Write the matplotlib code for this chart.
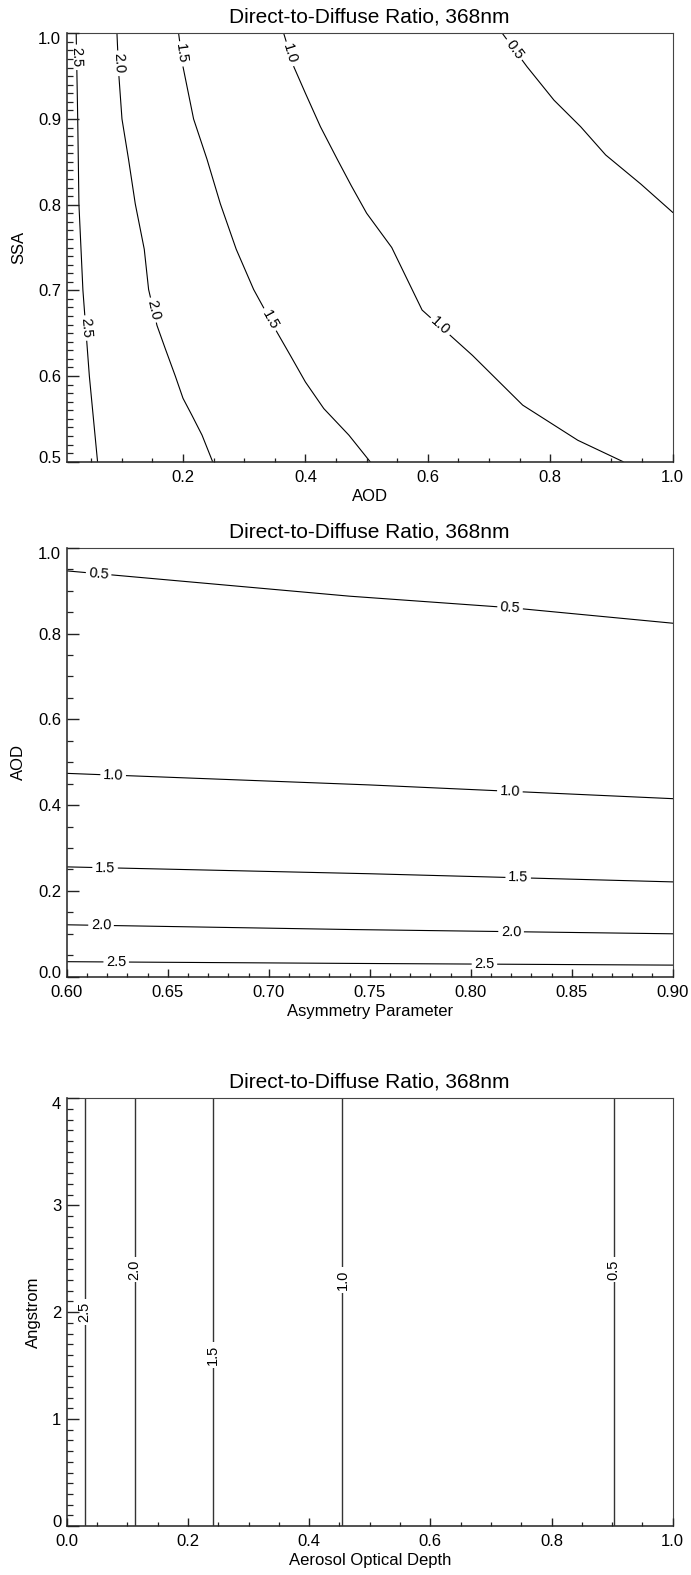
import numpy as np
import matplotlib
matplotlib.use("Agg")
import matplotlib.pyplot as plt
from matplotlib.ticker import MultipleLocator, FixedLocator, FormatStrFormatter
import matplotlib.transforms as mtransforms

plt.rcParams['font.family'] = ['Liberation Sans', 'DejaVu Sans']

TITLE = "Direct-to-Diffuse Ratio, 368nm"

# ---------------- Panel 1: SSA vs AOD ----------------
p1_aod_25 = [0.0255, 0.028, 0.030, 0.0365, 0.047, 0.0604]
p1_ssa_25 = [1.0, 0.90, 0.80, 0.70, 0.60, 0.50]
p1_aod_20 = [0.0921, 0.095, 0.1003, 0.111, 0.122, 0.1367, 0.1438, 0.1575, 0.171, 0.1874, 0.200, 0.2147, 0.2311, 0.2484]
p1_ssa_20 = [1.0, 0.953, 0.900, 0.853, 0.801, 0.748, 0.701, 0.659, 0.632, 0.600, 0.574, 0.554, 0.531, 0.500]
p1_aod_15 = [0.1928, 0.200, 0.2173, 0.2392, 0.261, 0.2869, 0.3154, 0.3537, 0.3754, 0.400, 0.430, 0.471, 0.5057]
p1_ssa_15 = [1.0, 0.961, 0.900, 0.853, 0.801, 0.748, 0.701, 0.651, 0.624, 0.593, 0.562, 0.531, 0.500]
p1_aod_10 = [0.3645, 0.381, 0.400, 0.4245, 0.452, 0.475, 0.500, 0.541, 0.5906, 0.673, 0.755, 0.845, 0.919]
p1_ssa_10 = [1.0, 0.961, 0.930, 0.891, 0.853, 0.822, 0.790, 0.750, 0.677, 0.624, 0.566, 0.525, 0.500]
p1_aod_05 = [0.7216, 0.762, 0.806, 0.8496, 0.8905, 0.948, 1.0]
p1_ssa_05 = [1.0, 0.961, 0.922, 0.891, 0.858, 0.824, 0.791]
p1_lab_ssa_25 = [0.972, 0.656]
p1_lab_ssa_20 = [0.965, 0.677]
p1_lab_ssa_15 = [0.976, 0.666]
p1_lab_ssa_10 = [0.976, 0.658]
p1_lab_ssa_05 = [0.981]

# ---------------- Panel 2: AOD vs Asymmetry ----------------
p2_g_05 = [0.60, 0.74, 0.82, 0.90]
p2_aod_05 = [0.946, 0.887, 0.860, 0.824]
p2_g_10 = [0.60, 0.75, 0.90]
p2_aod_10 = [0.474, 0.447, 0.415]
p2_g_15 = [0.60, 0.75, 0.90]
p2_aod_15 = [0.256, 0.240, 0.221]
p2_g_20 = [0.60, 0.74, 0.90]
p2_aod_20 = [0.121, 0.110, 0.100]
p2_g_25 = [0.60, 0.74, 0.90]
p2_aod_25 = [0.035, 0.031, 0.027]
p2_lab_g_05 = [0.6158, 0.8195]
p2_lab_g_10 = [0.623, 0.8194]
p2_lab_g_15 = [0.619, 0.8235]
p2_lab_g_20 = [0.617, 0.820]
p2_lab_g_25 = [0.6245, 0.8068]

# ---------------- Panel 3: Angstrom vs AOD ----------------
p3_levels = ["2.5", "2.0", "1.5", "1.0", "0.5"]
p3_aod = [0.0297, 0.112, 0.2414, 0.455, 0.9026]
p3_ang_ends = [0.0, 4.0]
p3_lab_ang = [2.0, 2.4, 1.6, 2.3, 2.4]

W, H = 691, 1575
fig = plt.figure(figsize=(W / 100, H / 100), dpi=100)

LEFT, RIGHT = 66.7, 672.7


def make_axes(top, bottom):
    return fig.add_axes([LEFT / W, 1 - bottom / H, (RIGHT - LEFT) / W, (bottom - top) / H])


def style_axes(ax):
    ax.set_axisbelow(False)
    for s in ['top', 'right']:
        ax.spines[s].set_linewidth(0.8)
        ax.spines[s].set_color('#444444')
    for s in ['left', 'bottom']:
        ax.spines[s].set_linewidth(1.2)
        ax.spines[s].set_color('#333333')
    ax.tick_params(axis='both', which='both', direction='in', top=False, right=False,
                   labelsize=12, colors='#222222', labelcolor='black')
    ax.tick_params(axis='y', which='major', length=8.4, width=1.0, pad=4)
    ax.tick_params(axis='y', which='minor', length=4.4, width=0.9)
    ax.tick_params(axis='x', which='major', length=5.6, width=1.0, pad=6)
    ax.tick_params(axis='x', which='minor', length=2.8, width=0.9)


def nudge_end_labels(ax):
    labs = ax.get_yticklabels()
    off_down = mtransforms.ScaledTranslation(0, -5 / 100, fig.dpi_scale_trans)
    off_up = mtransforms.ScaledTranslation(0, 5 / 100, fig.dpi_scale_trans)
    labs[0].set_transform(labs[0].get_transform() + off_up)
    labs[-1].set_transform(labs[-1].get_transform() + off_down)


def seg_angle(ax, xs, ys, x, y):
    pts = ax.transData.transform(np.column_stack([xs, ys]))
    p = ax.transData.transform([[x, y]])[0]
    best, bi = 1e18, 0
    for i in range(len(pts) - 1):
        a, b = pts[i], pts[i + 1]
        d = b - a
        t = np.clip(np.dot(p - a, d) / max(np.dot(d, d), 1e-9), 0, 1)
        dist = np.linalg.norm(a + t * d - p)
        if dist < best:
            best, bi = dist, i
    d = pts[bi + 1] - pts[bi]
    return np.degrees(np.arctan2(d[1], d[0]))


LINE_KW = dict(color='black', lw=0.8, zorder=2, solid_joinstyle='miter')
LAB_KW = dict(fontsize=10.5, ha='center', va='center', rotation_mode='anchor', zorder=2.2,
              bbox=dict(boxstyle='square,pad=0.18', fc='white', ec='none'))


def title(ax, top):
    fig.text(0.5 * (LEFT + RIGHT) / W, 1 - (top - 16) / H, TITLE, fontsize=15,
             ha='center', va='center')


# ===== Panel 1 =====
ax1 = make_axes(33.3, 461.7)
ax1.set_xlim(0.01, 1.0)
ax1.set_ylim(0.5, 1.0)
style_axes(ax1)
ax1.xaxis.set_major_locator(FixedLocator([0.2, 0.4, 0.6, 0.8, 1.0]))
ax1.xaxis.set_minor_locator(MultipleLocator(0.05))
ax1.yaxis.set_major_locator(FixedLocator([0.5, 0.6, 0.7, 0.8, 0.9, 1.0]))
ax1.yaxis.set_minor_locator(MultipleLocator(0.01))
ax1.xaxis.set_major_formatter(FormatStrFormatter('%.1f'))
ax1.yaxis.set_major_formatter(FormatStrFormatter('%.1f'))
p1_lines = [("2.5", p1_aod_25, p1_ssa_25, p1_lab_ssa_25),
            ("2.0", p1_aod_20, p1_ssa_20, p1_lab_ssa_20),
            ("1.5", p1_aod_15, p1_ssa_15, p1_lab_ssa_15),
            ("1.0", p1_aod_10, p1_ssa_10, p1_lab_ssa_10),
            ("0.5", p1_aod_05, p1_ssa_05, p1_lab_ssa_05)]
for lev, xs, ys, labys in p1_lines:
    ax1.plot(xs, ys, **LINE_KW)
    for ly in labys:
        lx = np.interp(ly, ys[::-1], xs[::-1])
        ang = seg_angle(ax1, xs, ys, lx, ly)
        ax1.text(lx, ly, lev, rotation=ang, **LAB_KW)
ax1.set_xlabel("AOD", fontsize=12)
ax1.set_ylabel("SSA", fontsize=12)
ax1.xaxis.set_label_coords(0.5, -35 / 428.4)
ax1.xaxis.label.set_va('center')
ax1.yaxis.set_label_coords(-(66.7 - 18.5) / 606, 0.5)
ax1.yaxis.label.set_va('center')
title(ax1, 33.3)
nudge_end_labels(ax1)

# ===== Panel 2 =====
ax2 = make_axes(547.7, 976.7)
ax2.set_xlim(0.60, 0.90)
ax2.set_ylim(0.0, 1.0)
style_axes(ax2)
ax2.xaxis.set_major_locator(FixedLocator([0.60, 0.65, 0.70, 0.75, 0.80, 0.85, 0.90]))
ax2.xaxis.set_minor_locator(MultipleLocator(0.01))
ax2.yaxis.set_major_locator(FixedLocator([0.0, 0.2, 0.4, 0.6, 0.8, 1.0]))
ax2.yaxis.set_minor_locator(MultipleLocator(0.05))
ax2.xaxis.set_major_formatter(FormatStrFormatter('%.2f'))
ax2.yaxis.set_major_formatter(FormatStrFormatter('%.1f'))
p2_lines = [("0.5", p2_g_05, p2_aod_05, p2_lab_g_05),
            ("1.0", p2_g_10, p2_aod_10, p2_lab_g_10),
            ("1.5", p2_g_15, p2_aod_15, p2_lab_g_15),
            ("2.0", p2_g_20, p2_aod_20, p2_lab_g_20),
            ("2.5", p2_g_25, p2_aod_25, p2_lab_g_25)]
for lev, xs, ys, labxs in p2_lines:
    ax2.plot(xs, ys, **LINE_KW)
    for lx in labxs:
        ly = np.interp(lx, xs, ys)
        ang = seg_angle(ax2, xs, ys, lx, ly)
        ax2.text(lx, ly, lev, rotation=ang, **LAB_KW)
ax2.set_xlabel("Asymmetry Parameter", fontsize=12)
ax2.set_ylabel("AOD", fontsize=12)
ax2.xaxis.set_label_coords(0.5, -35 / 429)
ax2.xaxis.label.set_va('center')
ax2.yaxis.set_label_coords(-(66.7 - 18.5) / 606, 0.5)
ax2.yaxis.label.set_va('center')
title(ax2, 547.7)
nudge_end_labels(ax2)

# ===== Panel 3 =====
ax3 = make_axes(1098.3, 1526.0)
ax3.set_xlim(0.0, 1.0)
ax3.set_ylim(0.0, 4.0)
style_axes(ax3)
ax3.xaxis.set_major_locator(FixedLocator([0.0, 0.2, 0.4, 0.6, 0.8, 1.0]))
ax3.xaxis.set_minor_locator(MultipleLocator(0.05))
ax3.yaxis.set_major_locator(FixedLocator([0, 1, 2, 3, 4]))
ax3.yaxis.set_minor_locator(MultipleLocator(0.1))
ax3.xaxis.set_major_formatter(FormatStrFormatter('%.1f'))
ax3.yaxis.set_major_formatter(FormatStrFormatter('%d'))
for lev, xa, ly in zip(p3_levels, p3_aod, p3_lab_ang):
    xs = [xa, xa]
    ys = p3_ang_ends
    ax3.plot(xs, ys, color='#333333', lw=1.0, zorder=2)
    ang = seg_angle(ax3, xs, ys, xa, ly)
    ax3.text(xa, ly, lev, rotation=ang, **LAB_KW)
ax3.set_xlabel("Aerosol Optical Depth", fontsize=12)
ax3.set_ylabel("Angstrom", fontsize=12)
ax3.xaxis.set_label_coords(0.5, -35 / 428)
ax3.xaxis.label.set_va('center')
ax3.yaxis.set_label_coords(-(66.7 - 33) / 606, 0.5)
ax3.yaxis.label.set_va('center')
title(ax3, 1098.3)
nudge_end_labels(ax3)

fig.savefig("out.png", dpi=100, facecolor='white')
